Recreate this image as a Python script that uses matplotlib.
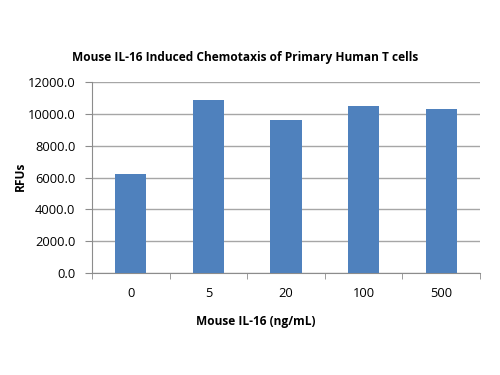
import matplotlib
matplotlib.use("Agg")
import matplotlib.pyplot as plt
import numpy as np

categories = ["0", "5", "20", "100", "500"]
values = [6250, 10870, 9620, 10500, 10300]
yticks = [0, 2000, 4000, 6000, 8000, 10000, 12000]

plt.rcParams['font.family'] = ['Open Sans', 'DejaVu Sans']

fig = plt.figure(figsize=(5, 3.75), dpi=100)
ax = fig.add_axes([0.184, 0.272, 0.776, 0.509])

x = np.arange(len(categories))
ax.bar(x, values, width=0.4, color="#4F81BD", zorder=3)

ax.set_xlim(-0.5, len(categories) - 0.5)
ax.set_ylim(0, 12000)
ax.set_yticks(yticks)
ax.set_yticklabels([f"{v:.1f}" for v in yticks], fontsize=9.3)
ax.yaxis.grid(True, color="#A6A6A6", linewidth=1, zorder=0)

ax.set_xticks(x)
ax.set_xticklabels(categories, fontsize=9.3)
ax.set_xticks(np.arange(-0.5, len(categories), 1), minor=True)
ax.tick_params(axis='x', which='major', length=0, pad=10)
ax.tick_params(axis='x', which='minor', length=4, color="#8C8C8C", direction='out')
ax.tick_params(axis='y', length=5, color="#8C8C8C", direction='out', pad=7)

for s in ['top', 'right']:
    ax.spines[s].set_visible(False)
for s in ['left', 'bottom']:
    ax.spines[s].set_color("#8C8C8C")

fig.text(245 / 500, 1 - 58 / 375, "Mouse IL-16 Induced Chemotaxis of Primary Human T cells",
         fontsize=8.6, fontweight='bold', ha='center', va='center')
fig.text(256 / 500, 1 - 322 / 375, "Mouse IL-16 (ng/mL)",
         fontsize=8.6, fontweight='bold', ha='center', va='center')
fig.text(20 / 500, 1 - 176 / 375, "RFUs", rotation=90,
         fontsize=8.6, fontweight='bold', ha='center', va='center')

fig.savefig("out.png", dpi=100)
